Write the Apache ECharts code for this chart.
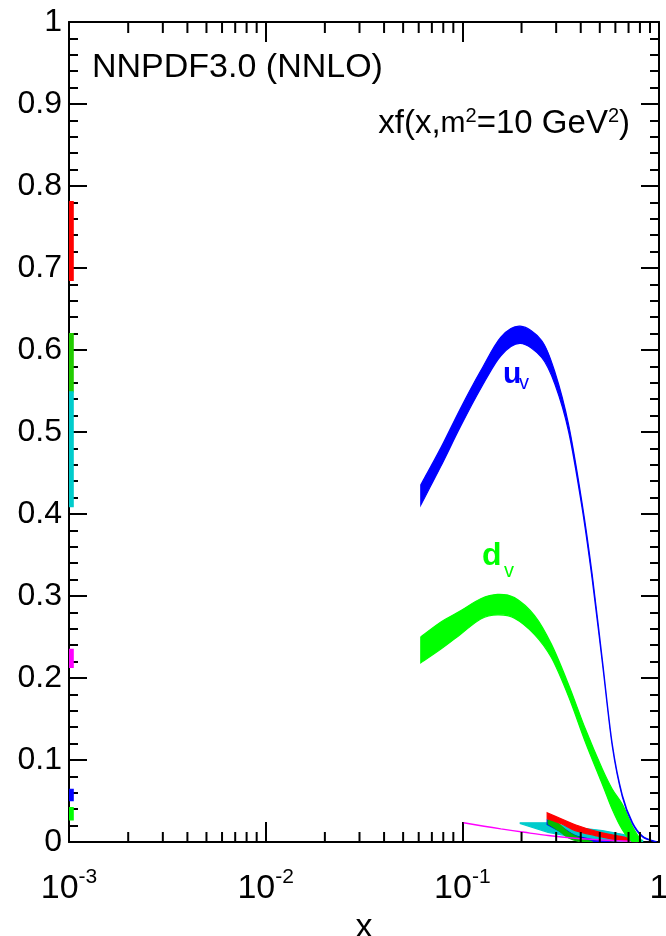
<!DOCTYPE html>
<html><head><meta charset="utf-8">
<script src="https://cdn.jsdelivr.net/npm/echarts@6/dist/echarts.min.js"></script>
<style>html,body{margin:0;padding:0;background:#fff}#c{width:666px;height:936px}</style>
</head><body><div id="c"></div>
<script>
const FONT = "'Liberation Sans', Arial, Helvetica, sans-serif";

// ---- data ----
// u_v band
const uvX  = [0.0615,0.0775,0.098,0.124,0.157,0.197,0.253,0.296,0.347,0.406,0.457,0.515,0.579,0.651,0.733,0.826,0.966];
const uvLo = [0.411,0.4575,0.507,0.553,0.593,0.608,0.591,0.558,0.5006,0.408,0.321,0.219,0.1165,0.055,0.0222,0.0062,0];
const uvHi = [0.4356,0.480,0.529,0.5746,0.6157,0.629,0.6116,0.5726,0.509,0.414,0.327,0.2225,0.119,0.057,0.0238,0.0072,0.0005];
// d_v band
const dvX  = [0.0615,0.0775,0.098,0.124,0.151,0.184,0.233,0.284,0.347,0.422,0.515,0.579,0.651,0.733,0.81];
const dvLo = [0.2185,0.235,0.2534,0.272,0.277,0.273,0.253,0.2246,0.1774,0.122,0.0705,0.0396,0.015,0,0];
const dvHi = [0.250,0.268,0.282,0.2966,0.302,0.298,0.276,0.241,0.1918,0.138,0.089,0.0643,0.0459,0.019,0.002];
// small bands near zero
const cyX  = [0.197,0.273,0.375,0.515,0.706,0.826];
const cyLo = [0.0225,0.0118,0.0057,0.0024,0,0];
const cyHi = [0.0234,0.0234,0.018,0.0139,0.0078,0.002];
const rdX  = [0.27,0.32,0.375,0.475,0.603,0.78];
const rdLo = [0.0283,0.022,0.0139,0.0078,0.0028,0];
const rdHi = [0.0357,0.028,0.021,0.0132,0.0078,0.0028];
const sgX  = [0.273,0.309,0.347,0.406,0.457];
const sgLo = [0.022,0.0139,0.0049,0,0];
const sgHi = [0.031,0.0222,0.0118,0.0036,0.0005];
const sbX  = [0.27,0.32,0.375,0.475,0.56];
const sbLo = [0.0214,0.0118,0.0037,0,0];
const sbHi = [0.027,0.018,0.0078,0.0024,0.0003];
// magenta line
const mgX  = [0.1015,0.129,0.157,0.207,0.273,0.375,0.515,0.78];
const mgY  = [0.0234,0.0193,0.016,0.0118,0.0078,0.0045,0.0024,0.0005];
// bands at the left edge (x = 1e-3)
const edgeX = [0.001, 0.00105];
const edgeRanges = [[0.685,0.781],[0.549,0.620],[0.409,0.549],[0.213,0.235],[0.0504,0.0643],[0.0268,0.0419]];
const edgeColors = ['#ff0000','#22cc00','#00cccc','#ff00ff','#0000ff','#00ff00'];
// axis ticks
const yTickLabels = ['0','0.1','0.2','0.3','0.4','0.5','0.6','0.7','0.8','0.9','1'];
const xMinorTicks = [0.002,0.003,0.004,0.005,0.006,0.007,0.008,0.009,
                     0.02,0.03,0.04,0.05,0.06,0.07,0.08,0.09,
                     0.2,0.3,0.4,0.5,0.6,0.7,0.8,0.9];

function smoothPath(pts) {
  let d = '';
  for (let i = 0; i < pts.length - 1; i++) {
    const p0 = pts[Math.max(0, i - 1)], p1 = pts[i], p2 = pts[i + 1], p3 = pts[Math.min(pts.length - 1, i + 2)];
    const c1 = [p1[0] + (p2[0] - p0[0]) / 6, p1[1] + (p2[1] - p0[1]) / 6];
    const c2 = [p2[0] - (p3[0] - p1[0]) / 6, p2[1] - (p3[1] - p1[1]) / 6];
    d += ' C' + c1[0] + ' ' + c1[1] + ' ' + c2[0] + ' ' + c2[1] + ' ' + p2[0] + ' ' + p2[1];
  }
  return d;
}
function band(xs, lo, hi, color, z, smooth) {
  const data = xs.map((x, i) => [x, lo[i], hi[i]]);
  return {
    type: 'custom', xAxisIndex: 0, yAxisIndex: 0, z: z, silent: true, clip: true,
    data: data, encode: { x: 0, y: [1, 2] },
    renderItem: function (params, api) {
      if (params.dataIndex !== 0) return null;
      const up = data.map(d => api.coord([d[0], d[2]]));
      const dn = data.map(d => api.coord([d[0], d[1]])).reverse();
      let path;
      if (smooth) {
        path = 'M' + up[0][0] + ' ' + up[0][1] + smoothPath(up) +
               ' L' + dn[0][0] + ' ' + dn[0][1] + smoothPath(dn) + ' Z';
      } else {
        const all = up.concat(dn);
        path = 'M' + all.map(p => p[0] + ' ' + p[1]).join(' L') + ' Z';
      }
      return { type: 'path', shape: { pathData: path }, style: { fill: color, stroke: color, lineWidth: 1.2 } };
    }
  };
}

const series = [];
edgeRanges.forEach((r, i) => series.push(band(edgeX, [r[0], r[0]], [r[1], r[1]], edgeColors[i], 3, false)));
series.push(band(cyX, cyLo, cyHi, '#00cccc', 3, false));
series.push(band(sbX, sbLo, sbHi, '#0000ff', 4, true));
series.push(band(sgX, sgLo, sgHi, '#00bb00', 5, true));
series.push(band(rdX, rdLo, rdHi, '#ff0000', 6, true));
series.push({
  type: 'line', z: 6, silent: true, symbol: 'none', smooth: 0.3,
  data: mgX.map((x, i) => [x, mgY[i]]),
  lineStyle: { color: '#ff00ff', width: 1.5 }
});
series.push(band(dvX, dvLo, dvHi, '#00ff00', 7, true));
series.push(band(uvX, uvLo, uvHi, '#0000ff', 8, true));
// minor log ticks on bottom and top axes
series.push({
  type: 'custom', z: 9, silent: true, clip: false,
  data: xMinorTicks.map(x => [x, 0]), encode: { x: 0, y: 1 },
  renderItem: function (params, api) {
    const x = api.value(0);
    const b = api.coord([x, 0]), t = api.coord([x, 1]);
    return { type: 'group', children: [
      { type: 'line', shape: { x1: b[0], y1: b[1], x2: b[0], y2: b[1] - 10 }, style: { stroke: '#000', lineWidth: 2 } },
      { type: 'line', shape: { x1: t[0], y1: t[1], x2: t[0], y2: t[1] + 11 }, style: { stroke: '#000', lineWidth: 2 } }
    ] };
  }
});

const axisLineStyle = { color: '#000', width: 2 };
function xAxisDef(pos, showLabel) {
  return {
    type: 'log', logBase: 10, min: 0.001, max: 1, splitNumber: 3, position: pos,
    axisLine: { show: true, onZero: false, lineStyle: axisLineStyle },
    axisTick: { show: true, inside: true, length: 20, lineStyle: axisLineStyle },
    splitLine: { show: false },
    axisLabel: {
      show: showLabel, margin: 25, fontFamily: FONT, color: '#000',
      formatter: function (v) {
        const e = Math.round(Math.log10(v));
        if (e === 0) return '{b|1}';
        return '{b|10}{s|' + e + '}';
      },
      rich: {
        b: { fontSize: 34, lineHeight: 44, fontFamily: FONT, color: '#000' },
        s: { fontSize: 21, lineHeight: 22, fontFamily: FONT, color: '#000', verticalAlign: 'top' }
      }
    },
    name: showLabel ? 'x' : '', nameLocation: 'middle', nameGap: 46,
    nameTextStyle: { fontSize: 34, fontFamily: FONT, color: '#000' }
  };
}
function yAxisDef(pos, showLabel) {
  return {
    type: 'value', min: 0, max: 1, interval: 0.1, position: pos,
    axisLine: { show: true, onZero: false, lineStyle: axisLineStyle },
    axisTick: { show: true, inside: true, length: 18, lineStyle: axisLineStyle },
    minorTick: { show: true, splitNumber: 5, length: 9, lineStyle: axisLineStyle },
    splitLine: { show: false }, minorSplitLine: { show: false },
    axisLabel: {
      show: showLabel, margin: 7, fontSize: 32, fontFamily: FONT, color: '#000',
      formatter: function (v) { return yTickLabels[Math.round(v * 10)]; }
    }
  };
}

const chart = echarts.init(document.getElementById('c'), null, { renderer: 'canvas' });
chart.setOption({
  animation: false,
  backgroundColor: '#fff',
  grid: { left: 69, right: 7, top: 22, bottom: 94, containLabel: false, outerBoundsMode: 'none' },
  xAxis: [xAxisDef('bottom', true), xAxisDef('top', false)],
  yAxis: [yAxisDef('left', true), yAxisDef('right', false)],
  series: series,
  graphic: [
    { type: 'text', x: 92, y: 67.5, z: 20,
      style: { text: 'NNPDF3.0 (NNLO)', fontSize: 34, fontFamily: FONT, fill: '#000', align: 'left', verticalAlign: 'middle' } },
    { type: 'text', x: 630, y: 124, z: 20,
      style: { text: '{a|xf(x,}{m|m}{p|2}{a|=10 GeV}{p|2}{a|)}', align: 'right', verticalAlign: 'middle',
        rich: {
          a: { fontSize: 33, lineHeight: 36, fontFamily: FONT, fill: '#000' },
          m: { fontSize: 30, lineHeight: 36, fontFamily: FONT, fill: '#000' },
          p: { fontSize: 20, lineHeight: 20, fontFamily: FONT, fill: '#000', verticalAlign: 'top' }
        } } },
    { type: 'text', x: 503, y: 374.6, z: 20,
      style: { text: 'u', fontSize: 30, fontWeight: 'bold', fontFamily: FONT, fill: '#0000ff', align: 'left', verticalAlign: 'middle' } },
    { type: 'text', x: 519, y: 383, z: 20,
      style: { text: 'v', fontSize: 20, fontFamily: FONT, fill: '#0000ff', align: 'left', verticalAlign: 'middle' } },
    { type: 'text', x: 482, y: 556.6, z: 20,
      style: { text: 'd', fontSize: 32, fontWeight: 'bold', fontFamily: FONT, fill: '#00ff00', align: 'left', verticalAlign: 'middle' } },
    { type: 'text', x: 504, y: 571, z: 20,
      style: { text: 'v', fontSize: 20, fontFamily: FONT, fill: '#00ff00', align: 'left', verticalAlign: 'middle' } }
  ]
});
</script>
</body></html>
